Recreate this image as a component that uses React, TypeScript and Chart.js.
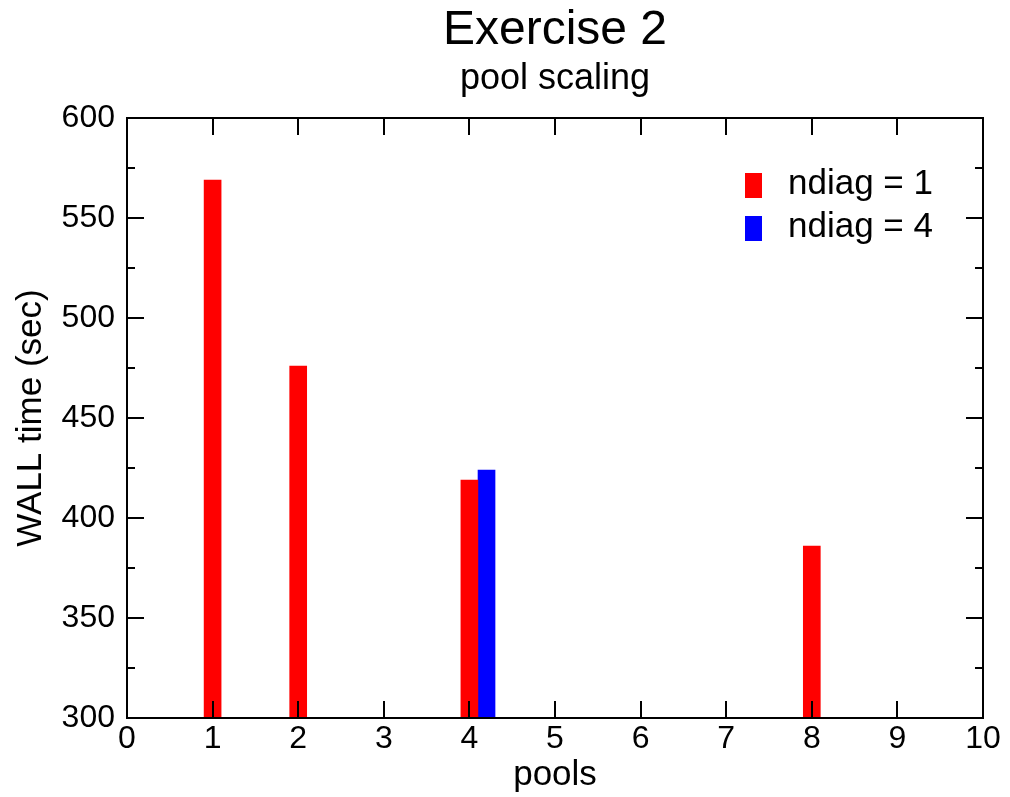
import React, { useEffect, useRef } from 'react';
import { Chart, registerables } from 'chart.js';

Chart.register(...registerables);

const TITLE = 'Exercise 2';
const SUBTITLE = 'pool scaling';
const X_LABEL = 'pools';
const Y_LABEL = 'WALL time (sec)';
const SERIES_NAMES = ['ndiag = 1', 'ndiag = 4'];
const SERIES_COLORS = ['#ff0000', '#0000ff'];
const NDIAG1_POOLS = [1, 2, 4, 8];
const NDIAG1_TIME = [569, 476, 419, 386];
const NDIAG4_POOLS = [4.2];
const NDIAG4_TIME = [424];
const X_MIN = 0;
const X_MAX = 10;
const X_STEP = 1;
const Y_MIN = 300;
const Y_MAX = 600;
const Y_MAJOR = 50;
const Y_MINOR = 25;

const FONT = 'Liberation Sans, Arial, Helvetica, sans-serif';

const frameTicksLegend = {
  id: 'frameTicksLegend',
  afterDraw(chart: any) {
    const { ctx, chartArea: a, scales } = chart;
    ctx.save();
    ctx.strokeStyle = '#000';
    ctx.lineWidth = 2;
    const line = (x1: number, y1: number, x2: number, y2: number) => {
      ctx.beginPath();
      ctx.moveTo(x1, y1);
      ctx.lineTo(x2, y2);
      ctx.stroke();
    };
    ctx.strokeRect(a.left, a.top, a.right - a.left, a.bottom - a.top);
    const xs = scales.x;
    xs.ticks.forEach((t: any) => {
      const p = Math.round(xs.getPixelForValue(t.value));
      if (p <= a.left + 1 || p >= a.right - 1) return;
      line(p, a.bottom, p, a.bottom - 17);
      line(p, a.top, p, a.top + 17);
    });
    const ys = scales.y;
    ys.ticks.forEach((t: any) => {
      const p = Math.round(ys.getPixelForValue(t.value));
      if (p <= a.top + 1 || p >= a.bottom - 1) return;
      const len = t.value % Y_MAJOR === 0 ? 17 : 8;
      line(a.left, p, a.left + len, p);
      line(a.right, p, a.right - len, p);
    });
    // legend
    ctx.font = `35px ${FONT}`;
    ctx.textBaseline = 'middle';
    ctx.textAlign = 'left';
    chart.data.datasets.forEach((ds: any, i: number) => {
      const bx = a.right - 238;
      const by = a.top + 55 + i * 43;
      ctx.fillStyle = ds.backgroundColor;
      ctx.fillRect(bx, by, 17, 25);
      ctx.fillStyle = '#000';
      ctx.fillText(ds.label, bx + 43, by + 11);
    });
    ctx.restore();
  },
};

export default function App() {
  const ref = useRef<HTMLCanvasElement>(null);
  useEffect(() => {
    if (!ref.current) return;
    const chart = new Chart(ref.current, {
      type: 'bar',
      data: {
        datasets: [
          {
            label: SERIES_NAMES[0],
            data: NDIAG1_POOLS.map((x, i) => ({ x, y: NDIAG1_TIME[i] })),
            backgroundColor: SERIES_COLORS[0],
            borderWidth: 0,
            barThickness: 17,
            maxBarThickness: 17,
            grouped: false,
            base: Y_MIN,
          },
          {
            label: SERIES_NAMES[1],
            data: NDIAG4_POOLS.map((x, i) => ({ x, y: NDIAG4_TIME[i] })),
            backgroundColor: SERIES_COLORS[1],
            borderWidth: 0,
            barThickness: 17,
            maxBarThickness: 17,
            grouped: false,
            base: Y_MIN,
          },
        ] as any,
      },
      options: {
        animation: false,
        responsive: false,
        devicePixelRatio: 1,
        layout: { padding: { left: 0, right: 27, top: 0, bottom: 0 } },
        plugins: {
          legend: { display: false },
          tooltip: { enabled: false },
          title: {
            display: true,
            text: TITLE,
            color: '#000',
            fullSize: false,
            font: { family: FONT, size: 48, weight: 'normal', lineHeight: 1.1 },
            padding: { top: 4, bottom: 0 },
          },
          subtitle: {
            display: true,
            text: SUBTITLE,
            color: '#000',
            fullSize: false,
            font: { family: FONT, size: 36, weight: 'normal', lineHeight: 1.2 },
            padding: { top: 1, bottom: 17 },
          },
        },
        scales: {
          x: {
            type: 'linear',
            min: X_MIN,
            max: X_MAX,
            offset: false,
            ticks: {
              stepSize: X_STEP,
              autoSkip: false,
              maxRotation: 0,
              padding: 2,
              color: '#000',
              font: { family: FONT, size: 32 },
            },
            grid: { display: false, drawTicks: false, offset: false },
            border: { display: false },
            title: {
              display: true,
              text: X_LABEL,
              color: '#000',
              font: { family: FONT, size: 35 },
              padding: { top: 0, bottom: 1 },
            },
            afterFit: (s: any) => {
              s.height = 79;
            },
          },
          y: {
            type: 'linear',
            min: Y_MIN,
            max: Y_MAX,
            ticks: {
              stepSize: Y_MINOR,
              autoSkip: false,
              padding: 12,
              color: '#000',
              font: { family: FONT, size: 32 },
              callback: (v: any) => (Number(v) % Y_MAJOR === 0 ? String(v) : ''),
            },
            grid: { display: false, drawTicks: false },
            border: { display: false },
            title: {
              display: true,
              text: Y_LABEL,
              color: '#000',
              font: { family: FONT, size: 35 },
              padding: { top: 10, bottom: 0 },
            },
            afterFit: (s: any) => {
              s.width = 127;
            },
          },
        },
      } as any,
      plugins: [frameTicksLegend],
    });
    return () => chart.destroy();
  }, []);
  return (
    <div style={{ position: 'absolute', left: 0, top: 0, width: 1010, height: 797, background: '#fff' }}>
      <canvas ref={ref} width={1010} height={797} />
    </div>
  );
}
